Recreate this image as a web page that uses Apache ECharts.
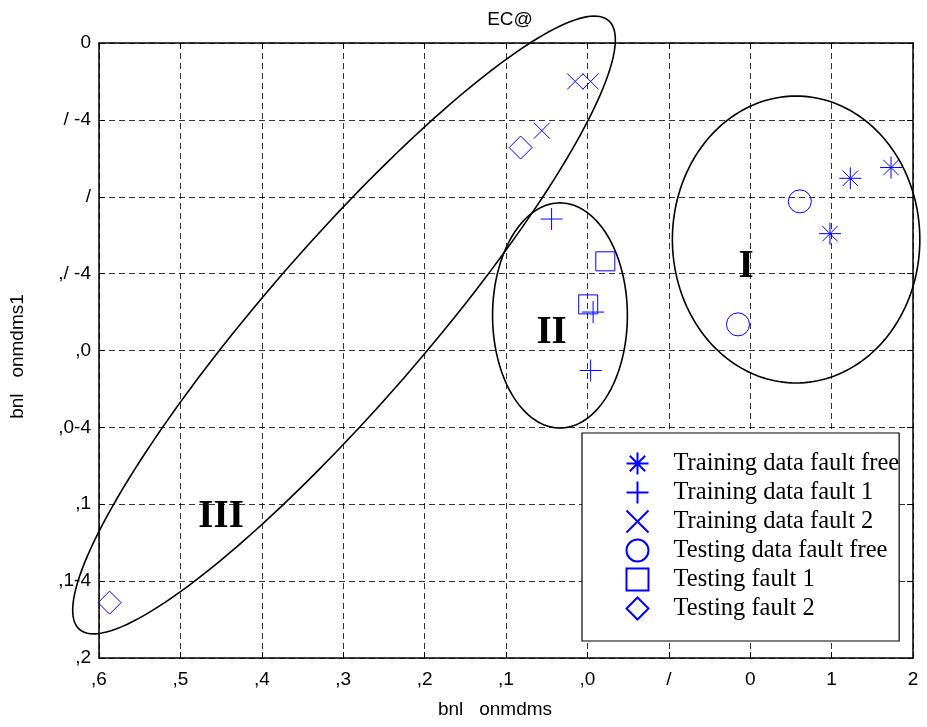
<!DOCTYPE html>
<html>
<head>
<meta charset="utf-8">
<script src="https://cdn.jsdelivr.net/npm/echarts@6/dist/echarts.min.js"></script>
<style>html,body{margin:0;padding:0;background:#fff}#c{width:927px;height:727px}</style>
</head>
<body>
<div id="c"></div>
<script>
// ---- data ----
var titleText = 'EC@';
var xAxisName = 'bnl   onmdms';
var yAxisName = 'bnl   onmdms1';
var xTickValues = [-7, -6, -5, -4, -3, -2, -1, 0, 1, 2, 3];
var xTickLabels = [',6', ',5', ',4', ',3', ',2', ',1', ',0', '/', '0', '1', '2'];
var yTickValues = [-3, -2.5, -2, -1.5, -1, -0.5, 0, 0.5, 1];
var yTickLabels = [',2', ',1-4', ',1', ',0-4', ',0', ',/ -4', '/', '/ -4', '0'];

var seriesNames = ['Training data fault free', 'Training data fault 1', 'Training data fault 2',
  'Testing data fault free', 'Testing fault 1', 'Testing fault 2'];
var trainFree = [[1.98, -0.24], [2.23, 0.12], [2.73, 0.19]];
var trainFault1 = [[-1.44, -0.145], [-0.93, -0.75], [-0.96, -1.13]];
var trainFault2 = [[-1.15, 0.75], [-0.96, 0.75], [-1.56, 0.43]];
var testFree = [[1.61, -0.03], [0.85, -0.83]];
var testFault1 = [[-0.78, -0.42], [-0.99, -0.70]];
var testFault2 = [[-1.82, 0.32], [-6.87, -2.64]];

// ellipses: [centerX, centerY, axis1X, axis1Y, axis2X, axis2Y] in data units
var ellipses = [
  [1.564, -0.278, 1.52, 0, 0, 0.933],
  [-1.337, -0.772, 0.828, 0, 0, 0.732],
  [-3.99, -0.834, 3.25, 1.98, 0.741, -0.341]
];
var regionLabels = [['I', 0.95, -0.457], ['II', -1.44, -0.886], ['III', -5.50, -2.08]];

// ---- chart ----
var blue = '#0000ff';
var symbols = [
  'path://M0,10L20,10M10,0L10,20M3,3L17,17M17,3L3,17',
  'path://M0,10L20,10M10,0L10,20',
  'path://M0,0L10,10M10,0L0,10',
  'circle', 'rect', 'diamond'
];
var sizes = [22, 22, 16, 23, 19, 23];
var datasets = [trainFree, trainFault1, trainFault2, testFree, testFault1, testFault2];

function xLabel(v) { var i = xTickValues.indexOf(Math.round(v)); return i >= 0 ? xTickLabels[i] : ''; }
function yLabel(v) {
  for (var i = 0; i < yTickValues.length; i++) if (Math.abs(yTickValues[i] - v) < 1e-6) return yTickLabels[i];
  return '';
}

var series = datasets.map(function (d, i) {
  return {
    name: seriesNames[i], type: 'scatter', data: d, symbol: symbols[i], symbolSize: sizes[i],
    itemStyle: { color: 'none', borderColor: blue, borderWidth: 1, opacity: 1 }, z: 5
  };
});

series.push({
  type: 'custom', name: 'ellipses', clip: false, silent: true, z: 4,
  data: ellipses,
  renderItem: function (params, api) {
    var cx = api.value(0), cy = api.value(1), ux = api.value(2), uy = api.value(3), vx = api.value(4), vy = api.value(5);
    var pts = [];
    var n = 180;
    for (var k = 0; k <= n; k++) {
      var t = 2 * Math.PI * k / n;
      pts.push(api.coord([cx + ux * Math.cos(t) + vx * Math.sin(t), cy + uy * Math.cos(t) + vy * Math.sin(t)]));
    }
    return { type: 'polyline', shape: { points: pts }, style: { fill: null, stroke: '#000', lineWidth: 1.6 } };
  }
});

series.push({
  type: 'scatter', name: 'regions', silent: true, z: 6,
  data: regionLabels.map(function (r) { return { name: r[0], value: [r[1], r[2]] }; }),
  symbolSize: 0,
  itemStyle: { opacity: 1 },
  label: { show: true, position: 'inside', formatter: '{b}', color: '#000',
    fontFamily: 'Liberation Serif', fontWeight: 'bold', fontSize: 39 }
});

var axisLineStyle = { color: '#000', width: 1.5 };
var tickStyle = { inside: true, length: 6, lineStyle: { color: '#000' } };
var option = {
  animation: false,
  backgroundColor: '#fff',
  title: { text: titleText, left: 505, top: 5, textAlign: 'center',
    textStyle: { fontFamily: 'Liberation Sans', fontWeight: 'normal', fontSize: 19, color: '#000' } },
  grid: { left: 98, right: 14, top: 43, bottom: 69 },
  xAxis: [{
    type: 'value', min: -7, max: 3, interval: 1,
    name: xAxisName, nameLocation: 'middle', nameGap: 42,
    nameTextStyle: { fontFamily: 'Liberation Sans', fontSize: 19, color: '#000', padding: [0, 22, 0, 0] },
    axisLine: { onZero: false, lineStyle: axisLineStyle }, axisTick: tickStyle,
    axisLabel: { formatter: xLabel, margin: 12, fontFamily: 'Liberation Sans', fontSize: 19, color: '#000' },
    splitLine: { show: true, lineStyle: { type: [6, 4], color: '#000', width: 0.8 } }
  }, {
    type: 'value', min: -7, max: 3, interval: 1, position: 'top',
    axisLine: { show: true, onZero: false, lineStyle: axisLineStyle }, axisTick: tickStyle,
    axisLabel: { show: false }, splitLine: { show: false }
  }],
  yAxis: [{
    type: 'value', min: -3, max: 1, interval: 0.5,
    name: yAxisName, nameLocation: 'middle', nameGap: 72, nameRotate: 90,
    nameTextStyle: { fontFamily: 'Liberation Sans', fontSize: 19, color: '#000', padding: [0, 12, 0, 0] },
    axisLine: { show: true, onZero: false, lineStyle: axisLineStyle }, axisTick: { show: true, inside: true, length: 6, lineStyle: { color: '#000' } },
    axisLabel: { formatter: yLabel, margin: 8, fontFamily: 'Liberation Sans', fontSize: 19, color: '#000' },
    splitLine: { show: true, lineStyle: { type: [6, 4], color: '#000', width: 0.8 } }
  }, {
    type: 'value', min: -3, max: 1, interval: 0.5, position: 'right',
    axisLine: { show: true, onZero: false, lineStyle: axisLineStyle }, axisTick: { show: true, inside: true, length: 6, lineStyle: { color: '#000' } },
    axisLabel: { show: false }, splitLine: { show: false }
  }],
  legend: {
    data: seriesNames, orient: 'vertical', left: 582, top: 433,
    padding: [17, 0, 19, 42], itemWidth: 22, itemHeight: 22, itemGap: 2,
    backgroundColor: '#fff', borderColor: '#000', borderWidth: 1.2,
    textStyle: { fontFamily: 'Liberation Serif', fontSize: 24.5, color: '#000', padding: [0, 0, 0, 20] }
  },
  series: series
};
var chart = echarts.init(document.getElementById('c'), null, { renderer: 'canvas' });
chart.setOption(option);
</script>
</body>
</html>
